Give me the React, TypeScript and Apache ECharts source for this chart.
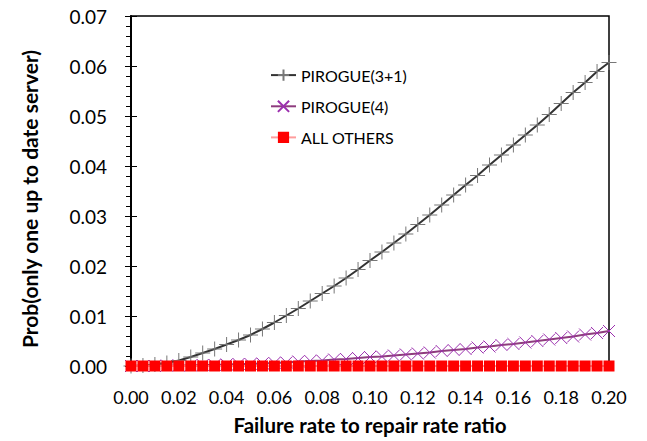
import React, { useEffect, useRef } from "react";
import * as echarts from "echarts";

const ratios = [
  0, 0.005, 0.01, 0.015, 0.02, 0.025, 0.03, 0.035, 0.04, 0.045, 0.05,
  0.055, 0.06, 0.065, 0.07, 0.075, 0.08, 0.085, 0.09, 0.095, 0.1,
  0.105, 0.11, 0.115, 0.12, 0.125, 0.13, 0.135, 0.14, 0.145, 0.15,
  0.155, 0.16, 0.165, 0.17, 0.175, 0.18, 0.185, 0.19, 0.195, 0.2,
];

const pirogue31 = [
  0, 0.0001, 0.0003, 0.0006, 0.0011, 0.0018, 0.0026, 0.0034, 0.0043, 0.0052, 0.0062,
  0.0074, 0.0087, 0.0101, 0.0115, 0.013, 0.0145, 0.016, 0.0176, 0.0193, 0.0211,
  0.0228, 0.0246, 0.0264, 0.0283, 0.0302, 0.0322, 0.0342, 0.0362, 0.0381, 0.0402,
  0.0422, 0.0442, 0.0462, 0.0482, 0.0503, 0.0525, 0.0547, 0.0567, 0.0589, 0.0607,
];

const pirogue4 = [
  0, 0, 0, 0.0001, 0.0001, 0.0001, 0.0002, 0.0002, 0.0003, 0.0004, 0.0004,
  0.0005, 0.0006, 0.0007, 0.0009, 0.001, 0.0011, 0.0013, 0.0014, 0.0016, 0.0018,
  0.0019, 0.0021, 0.0023, 0.0025, 0.0027, 0.003, 0.0032, 0.0034, 0.0037, 0.0039,
  0.0042, 0.0044, 0.0047, 0.005, 0.0053, 0.0056, 0.0059, 0.0063, 0.0066, 0.007,
];

const allOthers = [
  0, 0, 0, 0, 0, 0, 0, 0, 0, 0, 0,
  0, 0, 0, 0, 0, 0, 0, 0, 0, 0,
  0, 0, 0, 0, 0, 0, 0, 0, 0, 0,
  0, 0, 0, 0, 0, 0, 0, 0, 0, 0,
];

const seriesNames = ["PIROGUE(3+1)", "PIROGUE(4)", "ALL OTHERS"];
const xTitle = "Failure rate to repair rate ratio";
const yTitle = "Prob(only one up to date server)";

const FONT = "Lato, 'Open Sans', sans-serif";

export default function App() {
  const ref = useRef<HTMLDivElement>(null);
  useEffect(() => {
    if (!ref.current) return;
    const chart = echarts.init(ref.current, null, { renderer: "svg" });
    const pair = (ys: number[]) => ratios.map((x, i) => [x, ys[i]]);
    const fmt = (v: number) => v.toFixed(2);
    const option: any = {
      animation: false,
      backgroundColor: "#fff",
      textStyle: { fontFamily: FONT, color: "#000" },
      grid: {
        left: 131,
        right: 38,
        top: 16,
        bottom: 75,
        show: true,
        borderColor: "#000",
        borderWidth: 1.5,
        containLabel: false,
      },
      legend: {
        orient: "vertical",
        left: 265,
        top: 62,
        itemGap: 15,
        itemWidth: 25,
        itemHeight: 14,
        data: seriesNames,
        textStyle: { fontFamily: FONT, fontSize: 16, color: "#000" },
      },
      graphic: [
        {
          type: "text",
          x: 29,
          y: 199,
          rotation: Math.PI / 2,
          style: {
            text: yTitle,
            fill: "#000",
            font: `bold 21px ${FONT}`,
            align: "center",
            verticalAlign: "middle",
          },
        },
      ],
      xAxis: [
        {
          type: "value",
          min: 0,
          max: 0.2,
          interval: 0.02,
          name: xTitle,
          nameLocation: "middle",
          nameGap: 48,
          nameTextStyle: { fontFamily: FONT, fontSize: 20.5, fontWeight: "bold", color: "#000" },
          axisLine: { show: true, onZero: false, lineStyle: { color: "#000", width: 2 } },
          axisTick: { show: true, inside: false, length: 5, lineStyle: { color: "#000" } },
          axisLabel: { formatter: fmt, fontSize: 18, color: "#000", margin: 22, fontFamily: FONT },
          splitLine: { show: false },
        },
        {
          type: "value",
          position: "bottom",
          min: 0,
          max: 0.2,
          interval: 0.02,
          axisLine: { show: false },
          axisTick: { show: true, inside: true, length: 5, lineStyle: { color: "#000" } },
          axisLabel: { show: false },
          splitLine: { show: false },
        },
      ],
      yAxis: [
        {
          type: "value",
          position: "left",
          min: 0,
          max: 0.07,
          interval: 0.01,
          axisLine: { show: true, onZero: false, lineStyle: { color: "#000", width: 2 } },
          axisTick: { show: true, inside: false, length: 6, lineStyle: { color: "#000" } },
          minorTick: { show: true, splitNumber: 5, length: 5, lineStyle: { color: "#000" } },
          axisLabel: { formatter: fmt, fontSize: 19, color: "#000", margin: 24, fontFamily: FONT },
          splitLine: { show: false },
        },
        {
          type: "value",
          position: "left",
          min: 0,
          max: 0.07,
          interval: 0.01,
          axisLine: { show: false },
          axisTick: { show: true, inside: true, length: 6, lineStyle: { color: "#000" } },
          axisLabel: { show: false },
          splitLine: { show: false },
        },
      ],
      series: [
        {
          name: seriesNames[1],
          type: "line",
          data: pair(pirogue4),
          symbol: "path://M0,0L10,10M10,0L0,10",
          symbolSize: 12,
          showAllSymbol: true,
          lineStyle: { color: "#8E3C7E", width: 2 },
          itemStyle: { color: "none", borderColor: "#9B2FAE", borderWidth: 1 },
          z: 2,
        },
        {
          name: seriesNames[0],
          type: "line",
          data: pair(pirogue31),
          symbol: "path://M5,0L5,10M0,5L10,5",
          symbolSize: 15,
          showAllSymbol: true,
          lineStyle: { color: "#333333", width: 2 },
          itemStyle: { color: "none", borderColor: "#777777", borderWidth: 1 },
          z: 3,
        },
        {
          name: seriesNames[2],
          type: "line",
          data: pair(allOthers),
          symbol: "rect",
          symbolSize: 11,
          showAllSymbol: true,
          lineStyle: { color: "#FF9C9C", width: 2 },
          itemStyle: { color: "#FF0000", borderWidth: 0 },
          z: 4,
        },
      ],
    };
    chart.setOption(option);
    return () => chart.dispose();
  }, []);
  return (
    <div
      ref={ref}
      style={{ position: "fixed", left: 0, top: 0, width: 647, height: 441, background: "#fff" }}
    />
  );
}
